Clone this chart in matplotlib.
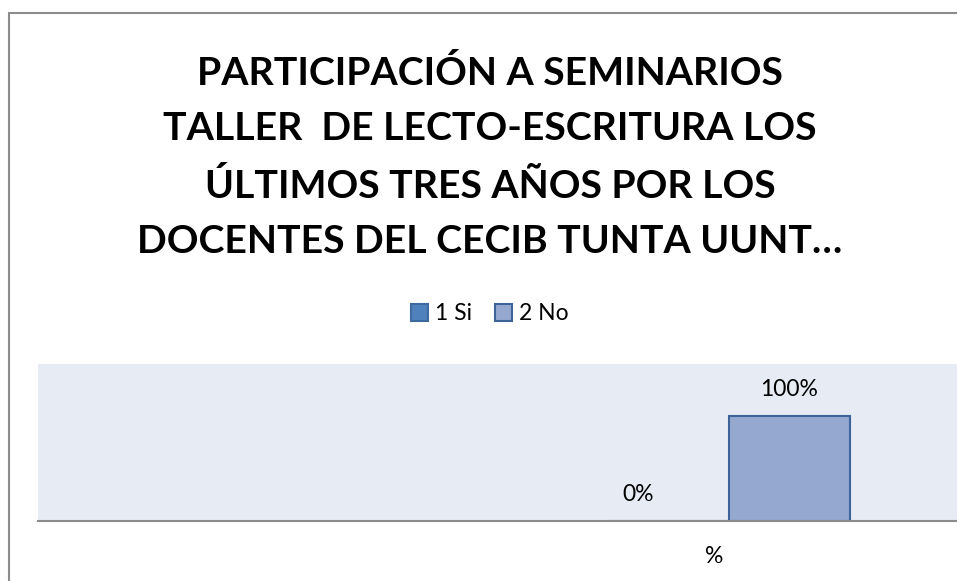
import matplotlib
matplotlib.use("Agg")
import matplotlib.pyplot as plt
from matplotlib.patches import Rectangle

# ---- data ----
title = ("PARTICIPACIÓN A SEMINARIOS\nTALLER  DE LECTO-ESCRITURA LOS\n"
         "ÚLTIMOS TRES AÑOS POR LOS\nDOCENTES DEL CECIB TUNTA UUNT…")
categories = ["%"]
series_names = ["1 Si", "2 No"]
series_values = [[0], [100]]
value_labels = [["0%"], ["100%"]]
colors = ["#4F81BD", "#95A9D0"]
edges = ["#3F6AA0", "#3E6399"]

W, H = 957, 581
fig = plt.figure(figsize=(W / 100, H / 100), dpi=100)
fig.patch.set_facecolor("white")

# chart border (extends beyond image to right/bottom)
fig.add_artist(Rectangle((9 / W, -0.1), 1.2, (H - 13) / H + 0.1,
                         transform=fig.transFigure, fill=False,
                         edgecolor="#8C8C8C", linewidth=1.5))

fig.text(490 / W, 1 - 157 / H, title, ha="center", va="center",
         fontsize=28.3, fontweight="bold", family="Lato", linespacing=1.7,
         color="black")

px_left, px_right = 38, 957
py_top, py_bot = 364, 521
ax = fig.add_axes([px_left / W, 1 - py_bot / H, (px_right - px_left) / W,
                   (py_bot - py_top) / H])
ax.set_facecolor("#E6EBF4")

bw = 121.0  # bar width in px = 1 data unit
cat_px = 714
ax.set_xlim((px_left - cat_px) / bw, (px_right - cat_px) / bw)
ax.set_ylim(0, 149.5)

offsets = [-0.38, 0.62]
xs = list(range(len(categories)))
for i, name in enumerate(series_names):
    pos = [x + offsets[i] for x in xs]
    bars = ax.bar(pos, series_values[i], width=1.0, color=colors[i],
                  edgecolor=edges[i], linewidth=1.5, label=name)
    for p, v, lab in zip(pos, series_values[i], value_labels[i]):
        dx = -30 if v == 0 else 0
        ax.annotate(lab, (p, v), xytext=(dx, 16), textcoords="offset pixels",
                    ha="center", va="bottom", fontsize=16.5, family="Lato",
                    color="black")

ax.set_xticks(xs)
ax.set_xticklabels(categories, fontsize=16.5, family="Lato")
ax.tick_params(axis="x", length=0, pad=18)
ax.set_yticks([])
for s in ["top", "left", "right"]:
    ax.spines[s].set_visible(False)
ax.spines["bottom"].set_color("#8C8C8C")
ax.spines["bottom"].set_linewidth(1.5)

leg = fig.legend(loc="center", bbox_to_anchor=(490 / W, 1 - 314 / H),
                 ncol=2, frameon=False, prop={"family": "Lato", "size": 16.5},
                 handlelength=0.75, handleheight=0.75, handletextpad=0.3,
                 columnspacing=1.0)

fig.savefig("out.png", dpi=100)
